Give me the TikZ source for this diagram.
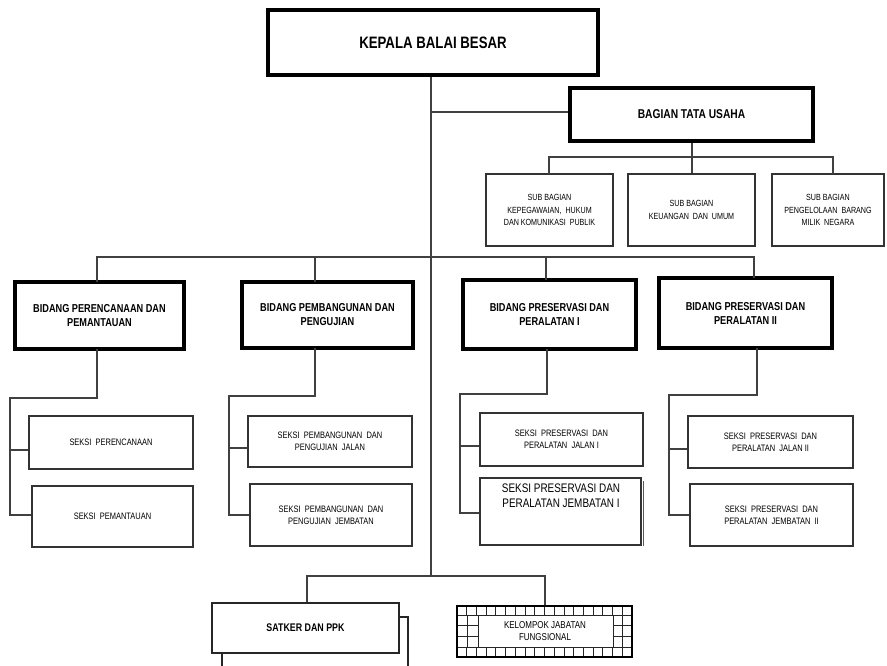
\documentclass[tikz,border=0pt]{standalone}
\usepackage{fontspec}
\setmainfont{Liberation Sans}[FakeStretch=0.8]
\begin{document}
% one unit = one pixel of an 887 x 665 canvas, y grows downwards
\begin{tikzpicture}[x=0.75pt,y=-0.75pt,
  thickbox/.style={draw=black,line width=2.4pt,fill=white,inner sep=0pt,align=center},
  midbox/.style={draw=black!85,line width=1.1pt,fill=white,inner sep=0pt,align=center},
  thinbox/.style={draw=black!80,line width=0.9pt,fill=white,inner sep=0pt,align=center},
  link/.style={draw=black!75,line width=0.8pt},
  gridline/.style={draw=black!85,line width=0.6pt},
  topfont/.style={font=\fontsize{12.4}{14}\selectfont\bfseries},
  bidfont/.style={font=\fontsize{8.6}{10.5}\selectfont\bfseries},
  subfont/.style={font=\fontsize{6.7}{9.4}\selectfont},
  seksifont/.style={font=\fontsize{7}{9}\selectfont}]

\newcommand\orgnode[7]{% style, name, x1, y1, x2, y2, text
  \node[#1,minimum width={(#5-#3)*0.75pt},minimum height={(#6-#4)*0.75pt}]
    (#2) at ({(#3+#5)/2},{(#4+#6)/2}) {#7};}

\useasboundingbox[fill=white] (0,0) rectangle (887,665);

\coordinate (trunkbot) at (431,576);
\coordinate (tu) at (431,112);
\coordinate (barL) at (97,257);
\coordinate (barR) at (754,257);

% ---- head
\orgnode{thickbox,topfont}{kepala}{268}{10}{598}{75}{KEPALA BALAI BESAR}
\draw[link] (kepala.south -| trunkbot) -- (trunkbot);

% ---- administration branch
\orgnode{thickbox,font=\fontsize{9.6}{11}\selectfont\bfseries}{btu}{570}{88}{813}{141}{BAGIAN TATA USAHA}
\draw[link] (tu) -- (tu -| btu.west);

\coordinate (subbar) at (692,157);
\orgnode{thinbox,subfont}{subA}{486}{174}{613}{246}{SUB BAGIAN\\ KEPEGAWAIAN,\ \ HUKUM\\ DAN KOMUNIKASI\ \ PUBLIK}
\orgnode{thinbox,subfont}{subB}{628}{174}{755}{246}{SUB BAGIAN\\ KEUANGAN\ \ DAN\ \ UMUM}
\orgnode{thinbox,subfont}{subC}{772}{174}{884}{246}{SUB BAGIAN\\ PENGELOLAAN\ \ BARANG\\ MILIK\ \ NEGARA}
\draw[link] (btu.south -| subbar) -- (subbar);
\draw[link] (549,174) -- (549,157) -- (833,157) -- (833,174);
\draw[link] (subbar) -- (subB.north -| subbar);

% ---- divisions
\orgnode{thickbox,bidfont}{bidA}{15}{282}{184}{349}{BIDANG PERENCANAAN DAN\\ PEMANTAUAN}
\orgnode{thickbox,bidfont}{bidB}{242}{282}{413}{348}{BIDANG PEMBANGUNAN DAN\\ PENGUJIAN}
\orgnode{thickbox,bidfont}{bidC}{463}{280}{636}{349}{BIDANG PRESERVASI DAN\\ PERALATAN I}
\orgnode{thickbox,bidfont}{bidD}{659}{278}{832}{348}{BIDANG PRESERVASI DAN\\ PERALATAN II}
\draw[link] (97,282) -- (barL) -- (barR) -- (754,278);
\draw[link] (315,257) -- (315,282);
\draw[link] (546,257) -- (546,280);

% ---- sections under division A
\orgnode{thinbox,seksifont}{sA1}{29}{416}{193}{469}{SEKSI\ \ PERENCANAAN}
\orgnode{thinbox,seksifont}{sA2}{32}{486}{193}{547}{SEKSI\ \ PEMANTAUAN}
\draw[link] (97,349) -- (97,398) -- (10,398) -- (10,515) -- (sA2.west |- 0,515);
\draw[link] (10,450) -- (sA1.west |- 0,450);

% ---- sections under division B
\orgnode{thinbox,seksifont}{sB1}{248}{416}{412}{467}{SEKSI\ \ PEMBANGUNAN\ \ DAN\\ PENGUJIAN\ \ JALAN}
\orgnode{thinbox,seksifont}{sB2}{250}{484}{412}{546}{SEKSI\ \ PEMBANGUNAN\ \ DAN\\ PENGUJIAN\ \ JEMBATAN}
\draw[link] (315,348) -- (315,396) -- (229,396) -- (229,515) -- (sB2.west |- 0,515);
\draw[link] (229,448) -- (sB1.west |- 0,448);

% ---- sections under division C
\orgnode{thinbox,seksifont}{sC1}{480}{413}{643}{466}{SEKSI\ \ PRESERVASI\ \ DAN\\ PERALATAN\ \ JALAN I}
\draw[black!65,line width=1.1pt] (643.5,481) -- (643.5,545.5);
\orgnode{thinbox}{sC2}{480}{478}{641}{545}{}
\node[align=center,anchor=north,font=\fontsize{9.3}{11.2}\selectfont,inner sep=0pt]
  (sC2text) at (561,484) {SEKSI PRESERVASI DAN\\ PERALATAN JEMBATAN I};
\draw[link] (547,349) -- (547,394) -- (460,394) -- (460,513) -- (sC2.west |- 0,513);
\draw[link] (460,446) -- (sC1.west |- 0,446);

% ---- sections under division D
\orgnode{thinbox,seksifont}{sD1}{688}{416}{853}{468}{SEKSI\ \ PRESERVASI\ \ DAN\\ PERALATAN\ \ JALAN II}
\orgnode{thinbox,seksifont}{sD2}{690}{484}{853}{546}{SEKSI\ \ PRESERVASI\ \ DAN\\ PERALATAN\ \ JEMBATAN\ \ II}
\draw[link] (757,348) -- (757,395) -- (669,395) -- (669,515) -- (sD2.west |- 0,515);
\draw[link] (669,449) -- (sD1.west |- 0,449);

% ---- bottom units
\draw[link] (307,603) -- (307,576) -- (545,576) -- (545,606);
\begin{scope}
  \clip (0,0) rectangle (887,665);
  \orgnode{midbox}{satkerback}{222}{617}{408}{690}{}
\end{scope}
\orgnode{midbox,font=\fontsize{8.3}{10}\selectfont\bfseries}{satker}{212}{603}{399}{653}{SATKER DAN PPK}

% functional group box with a chequered frame
\draw[fill=white,draw=none] (457,606) rectangle (632,657);
\foreach \k in {1,...,17}
  \draw[gridline] ({457+\k*175/18},606) -- ++(0,9) ({457+\k*175/18},647) -- ++(0,10);
\draw[gridline] (457,615) -- (632,615) (457,647) -- (632,647);
\draw[gridline] (467.5,615) -- (467.5,647) (622.5,615) -- (622.5,647);
\foreach \yy in {625.7,636.3}
  \draw[gridline] (457,\yy) -- (478,\yy) (613,\yy) -- (632,\yy);
\draw[gridline] (478,615) rectangle (613,647);
\node[draw=black,line width=1.6pt,minimum width={175*0.75pt},minimum height={51*0.75pt},inner sep=0pt]
  (kjf) at (544.5,631.5) {};
\node[align=center,inner sep=0pt,font=\fontsize{7.5}{9.5}\selectfont] (kjftext) at (545,631)
  {KELOMPOK JABATAN\\ FUNGSIONAL};
\end{tikzpicture}
\end{document}
